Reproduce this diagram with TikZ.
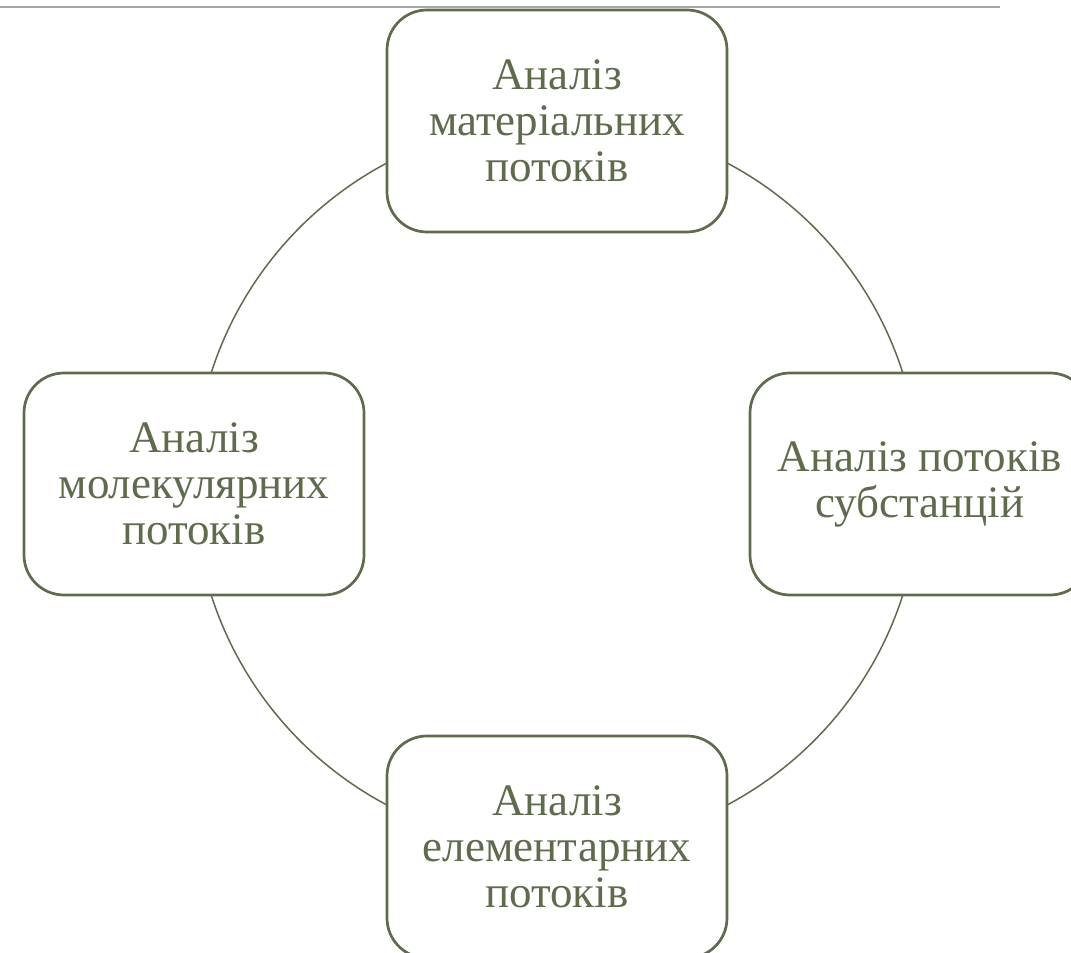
\documentclass[tikz,border=0pt]{standalone}
\usepackage{fontspec}
\setmainfont{Liberation Serif}
\usetikzlibrary{positioning}
\usetikzlibrary{backgrounds}
\definecolor{sage}{RGB}{94,107,77}

\begin{document}
\begin{tikzpicture}[x=1pt,y=1pt]
  % some styles
  \tikzset{
    stage/.style={
      rectangle,
      rounded corners=40pt,
      minimum width=340pt,
      minimum height=222pt,
      inner sep=0pt,
      align=center,
      draw=sage,
      line width=2.7pt,
      fill=white,
      text=sage,
      font=\fontsize{45}{46}\selectfont
    }
  }
 \tikzset{cycle/.style={draw=sage,line width=1.5pt}}

\useasboundingbox (0,0) rectangle (1071,953);
\clip (0,0) rectangle (1071,953);
\draw[black!35,line width=1.8pt] (0,946) -- (1000,946);

\coordinate (hub) at (557,469);
\node[stage] (material) at (557,832) {Аналіз\\матеріальних\\потоків};
\node[stage] (substance) at (920,469) {Аналіз потоків\\субстанцій};
\node[stage] (element) at (557,106) {Аналіз\\елементарних\\потоків};
\node[stage] (molecule) at (194,469) {Аналіз\\молекулярних\\потоків};

\begin{scope}[on background layer]
\foreach \a/\b in {material/substance,substance/element,element/molecule,molecule/material} {
    \draw[cycle] (\a.center) to[bend left=45] (\b.center);
}
\end{scope}
\end{tikzpicture}
\end{document}
